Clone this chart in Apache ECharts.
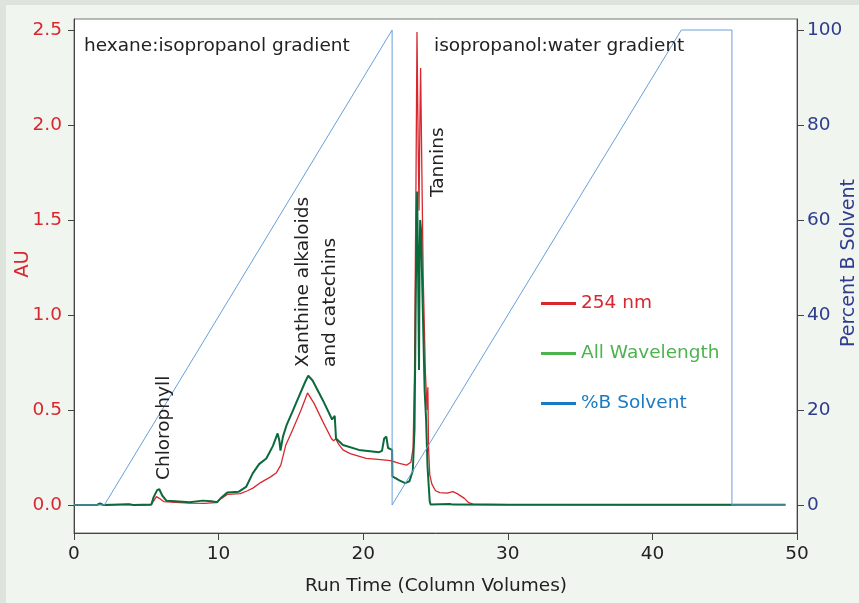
<!DOCTYPE html>
<html><head><meta charset="utf-8">
<script src="https://cdn.jsdelivr.net/npm/echarts@6/dist/echarts.min.js"></script>
<style>html,body{margin:0;padding:0;background:#f1f5ef}#c{width:859px;height:603px}</style>
</head><body><div id="c"></div>
<script>
// ---- data ----
const xTicks = [0, 10, 20, 30, 40, 50];
const auTicks = [0, 0.5, 1.0, 1.5, 2.0, 2.5];
const pctTicks = [0, 20, 40, 60, 80, 100];

const seriesNames = ['254 nm', 'All Wavelength', '%B Solvent'];

const nm254X = [0, 1.5, 1.8, 2.1, 3.8, 4.2, 5.3, 5.5, 5.7, 5.9, 6.2, 7.0, 8.0, 9.0, 9.8, 10.2, 10.6, 11.5, 12.0, 12.4, 12.9, 13.6, 14.0, 14.3, 14.65, 15.1, 15.7, 16.15, 16.6, 17.2, 17.8, 17.95, 18.1, 18.3, 18.6, 19.1, 20.2, 21.0, 21.9, 22.0, 22.5, 23.0, 23.3, 23.45, 23.55, 23.65, 23.72, 23.8, 23.86, 23.92, 23.97, 24.05, 24.15, 24.3, 24.42, 24.47, 24.52, 24.6, 24.75, 25.0, 25.3, 25.8, 26.2, 26.5, 27.0, 27.3, 27.6, 30, 40, 49.2];
const nm254Y = [0, 0, 0.006, 0, 0.003, 0, 0, 0.02, 0.044, 0.035, 0.018, 0.014, 0.01, 0.008, 0.012, 0.035, 0.056, 0.06, 0.075, 0.09, 0.118, 0.148, 0.17, 0.21, 0.316, 0.392, 0.5, 0.59, 0.535, 0.44, 0.35, 0.338, 0.348, 0.32, 0.29, 0.27, 0.245, 0.24, 0.234, 0.228, 0.219, 0.21, 0.225, 0.3, 0.7, 1.7, 2.49, 1.9, 1.55, 2.0, 2.3, 1.8, 1.2, 0.7, 0.5, 0.62, 0.3, 0.16, 0.11, 0.075, 0.065, 0.062, 0.07, 0.06, 0.035, 0.012, 0.004, 0.002, 0.001, 0.001];

const allWlX = [0, 1.6, 1.8, 2.0, 3.8, 4.1, 5.35, 5.5, 5.75, 5.9, 6.1, 6.4, 7.0, 8.0, 8.9, 9.5, 9.9, 10.2, 10.6, 11.4, 11.9, 12.35, 12.8, 13.3, 13.75, 14.08, 14.2, 14.28, 14.45, 14.7, 15.1, 15.6, 16.0, 16.2, 16.5, 17.2, 17.85, 17.95, 18.03, 18.12, 18.6, 19.7, 21.1, 21.3, 21.45, 21.6, 21.72, 21.8, 22.0, 22.02, 22.5, 22.9, 23.2, 23.43, 23.55, 23.65, 23.73, 23.8, 23.86, 23.9, 23.94, 24.0, 24.1, 24.25, 24.35, 24.45, 24.6, 24.66, 26.0, 26.2, 30, 40, 49.2];
const allWlY = [0, 0, 0.008, 0, 0.004, 0, 0.002, 0.04, 0.078, 0.083, 0.05, 0.022, 0.02, 0.015, 0.023, 0.02, 0.015, 0.04, 0.066, 0.07, 0.095, 0.165, 0.215, 0.245, 0.31, 0.377, 0.34, 0.286, 0.36, 0.42, 0.49, 0.58, 0.65, 0.68, 0.655, 0.553, 0.45, 0.44, 0.47, 0.35, 0.316, 0.29, 0.278, 0.285, 0.35, 0.36, 0.3, 0.29, 0.29, 0.15, 0.13, 0.115, 0.125, 0.18, 0.4, 1.2, 1.65, 1.2, 0.71, 1.3, 1.5, 1.45, 1.1, 0.6, 0.45, 0.2, 0.02, 0.003, 0.005, 0.002, 0.001, 0.001, 0.001];

const solventX = [0, 2.1, 22.0, 22.0, 42.0, 45.5, 45.5, 49.2];
const solventY = [0, 0, 100, 0, 100, 100, 0, 0];

const annotations = ['hexane:isopropanol gradient', 'isopropanol:water gradient', 'Chlorophyll', 'Xanthine alkaloids', 'and catechins', 'Tannins'];
const axisNames = ['AU', 'Percent B Solvent', 'Run Time (Column Volumes)'];

// ---- style ----
const FONT = 'DejaVu Sans';
const RED = '#d7282f', GREEN = '#0b6a3c', BLUE = '#6a9fd8', NAVY = '#2e3c8e';
const LEG_GREEN = '#4cb34f', LEG_BLUE = '#1b7bc2', TXT = '#222';

const zip = (xs, ys) => xs.map((x, i) => [x, ys[i]]);

const chart = echarts.init(document.getElementById('c'), null, {renderer: 'canvas'});

function rotText(text, x, y, color, size) {
  return {type: 'text', x: x, y: y, rotation: Math.PI / 2, z: 50,
    style: {text: text, x: 0, y: 0, align: 'left', verticalAlign: 'middle', fill: color || TXT, font: (size || 18.5) + 'px "' + FONT + '"'}};
}

const option = {
  animation: false,
  backgroundColor: '#f1f5ef',
  grid: {left: 74, right: 62, top: 19, bottom: 70, show: true, backgroundColor: '#fff', borderColor: '#777', borderWidth: 1},
  xAxis: {
    type: 'value', min: 0, max: 50, interval: 10,
    axisLine: {show: true, onZero: false, lineStyle: {color: '#444', width: 1}},
    axisTick: {show: true, length: 7, lineStyle: {color: '#444'}},
    axisLabel: {margin: 12, color: TXT, fontSize: 18.5, fontFamily: FONT, customValues: xTicks},
    splitLine: {show: false}
  },
  yAxis: [{
    type: 'value', min: -0.1474, max: 2.5579, position: 'left',
    axisLine: {show: true, onZero: false, lineStyle: {color: '#444', width: 1}},
    axisTick: {show: true, length: 6, customValues: auTicks, lineStyle: {color: '#444'}},
    axisLabel: {margin: 12, color: RED, fontSize: 18.5, fontFamily: FONT, customValues: auTicks, formatter: v => v.toFixed(1)},
    splitLine: {show: false}
  }, {
    type: 'value', min: -5.895, max: 102.316, position: 'right',
    axisLine: {show: true, onZero: false, lineStyle: {color: '#444', width: 1}},
    axisTick: {show: true, length: 7, customValues: pctTicks, lineStyle: {color: '#444'}},
    axisLabel: {margin: 10, color: NAVY, fontSize: 18.5, fontFamily: FONT, customValues: pctTicks},
    splitLine: {show: false}
  }],
  legend: {
    orient: 'vertical', left: 536, top: 289, itemWidth: 35, itemHeight: 3, itemGap: 31, icon: 'rect',
    textStyle: {fontSize: 18.5, fontFamily: FONT},
    data: [
      {name: seriesNames[0], itemStyle: {color: RED}, textStyle: {color: RED}},
      {name: seriesNames[1], itemStyle: {color: LEG_GREEN}, textStyle: {color: LEG_GREEN}},
      {name: seriesNames[2], itemStyle: {color: LEG_BLUE}, textStyle: {color: LEG_BLUE}}
    ]
  },
  series: [
    {name: seriesNames[0], type: 'line', yAxisIndex: 0, symbol: 'none', data: zip(nm254X, nm254Y), lineStyle: {color: RED, width: 1.3}, itemStyle: {color: RED}, z: 2},
    {name: seriesNames[1], type: 'line', yAxisIndex: 0, symbol: 'none', data: zip(allWlX, allWlY), lineStyle: {color: GREEN, width: 2}, itemStyle: {color: GREEN}, z: 3},
    {name: seriesNames[2], type: 'line', yAxisIndex: 1, symbol: 'none', data: zip(solventX, solventY), lineStyle: {color: BLUE, width: 1}, itemStyle: {color: BLUE}, z: 4}
  ],
  graphic: [
    {type: 'rect', left: 0, top: 0, shape: {width: 859, height: 5}, style: {fill: '#dde4dc'}, z: -10, silent: true},
    {type: 'rect', left: 0, top: 0, shape: {width: 6, height: 603}, style: {fill: '#dde4dc'}, z: -10, silent: true},
    {type: 'text', x: 84, y: 46, z: 50, style: {text: annotations[0], align: 'left', verticalAlign: 'middle', fill: TXT, font: '18.5px "' + FONT + '"'}},
    {type: 'text', x: 434, y: 46, z: 50, style: {text: annotations[1], align: 'left', verticalAlign: 'middle', fill: TXT, font: '18.5px "' + FONT + '"'}},
    rotText(annotations[2], 164, 480),
    rotText(annotations[3], 303, 367),
    rotText(annotations[4], 330, 367),
    rotText(annotations[5], 438, 197),
    {type: 'text', x: 23, y: 264, rotation: Math.PI / 2, z: 50, style: {text: axisNames[0], align: 'center', verticalAlign: 'middle', fill: RED, font: '19.5px "' + FONT + '"'}},
    {type: 'text', x: 849, y: 263, rotation: Math.PI / 2, z: 50, style: {text: axisNames[1], align: 'center', verticalAlign: 'middle', fill: NAVY, font: '19px "' + FONT + '"'}},
    {type: 'text', x: 436, y: 586, z: 50, style: {text: axisNames[2], align: 'center', verticalAlign: 'middle', fill: TXT, font: '18.5px "' + FONT + '"'}}
  ]
};
chart.setOption(option);
</script></body></html>
